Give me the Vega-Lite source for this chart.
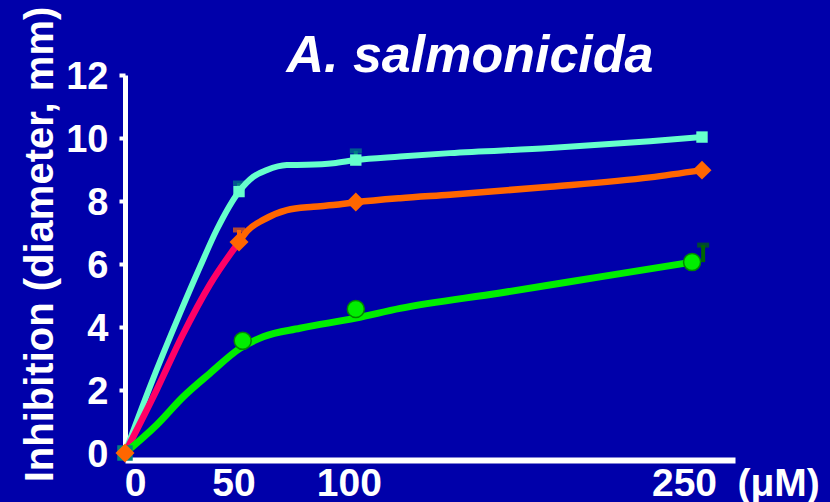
{
  "$schema": "https://vega.github.io/schema/vega-lite/v6.json",
  "width": 610,
  "height": 378,
  "autosize": {"type": "none"},
  "padding": {"left": 125, "top": 75, "right": 95, "bottom": 49},
  "background": "#0000AA",
  "title": {"text": "A. salmonicida", "font": "Liberation Sans", "fontSize": 52, "fontWeight": "bold", "fontStyle": "italic", "color": "white", "anchor": "middle", "frame": "group", "dx": 40, "dy": 120, "baseline": "alphabetic", "offset": 2},
  "datasets": {
    "curves": [
      {"series": "cyan", "x": 0, "y": 0},
      {"series": "cyan", "x": 10.8, "y": 2.1},
      {"series": "cyan", "x": 23.8, "y": 4.43},
      {"series": "cyan", "x": 32.5, "y": 5.91},
      {"series": "cyan", "x": 39.7, "y": 7.08},
      {"series": "cyan", "x": 49.4, "y": 8.3},
      {"series": "cyan", "x": 55.6, "y": 8.77},
      {"series": "cyan", "x": 61.4, "y": 8.98},
      {"series": "cyan", "x": 70.1, "y": 9.14},
      {"series": "cyan", "x": 78.7, "y": 9.15},
      {"series": "cyan", "x": 90.3, "y": 9.2},
      {"series": "cyan", "x": 100, "y": 9.3},
      {"series": "cyan", "x": 119.2, "y": 9.41},
      {"series": "cyan", "x": 140.8, "y": 9.52},
      {"series": "cyan", "x": 184.1, "y": 9.68},
      {"series": "cyan", "x": 227.5, "y": 9.9},
      {"series": "cyan", "x": 250, "y": 10.03},
      {"series": "red", "x": 0, "y": 0},
      {"series": "red", "x": 13.7, "y": 2.0},
      {"series": "red", "x": 25, "y": 3.75},
      {"series": "red", "x": 36.8, "y": 5.35},
      {"series": "red", "x": 49.4, "y": 6.7},
      {"series": "orange", "x": 49.4, "y": 6.7},
      {"series": "orange", "x": 53, "y": 7.05},
      {"series": "orange", "x": 59.9, "y": 7.4},
      {"series": "orange", "x": 70.1, "y": 7.71},
      {"series": "orange", "x": 81.6, "y": 7.82},
      {"series": "orange", "x": 90.3, "y": 7.87},
      {"series": "orange", "x": 100, "y": 7.96},
      {"series": "orange", "x": 119.2, "y": 8.09},
      {"series": "orange", "x": 140.8, "y": 8.2},
      {"series": "orange", "x": 184.1, "y": 8.45},
      {"series": "orange", "x": 227.5, "y": 8.75},
      {"series": "orange", "x": 250, "y": 8.98},
      {"series": "green", "x": 0, "y": 0},
      {"series": "green", "x": 13.7, "y": 0.89},
      {"series": "green", "x": 25.3, "y": 1.79},
      {"series": "green", "x": 36.8, "y": 2.53},
      {"series": "green", "x": 49.8, "y": 3.32},
      {"series": "green", "x": 59.9, "y": 3.69},
      {"series": "green", "x": 75.8, "y": 3.96},
      {"series": "green", "x": 100, "y": 4.28},
      {"series": "green", "x": 119.2, "y": 4.59},
      {"series": "green", "x": 162.5, "y": 5.08},
      {"series": "green", "x": 205.8, "y": 5.59},
      {"series": "green", "x": 245.7, "y": 6.06}
    ],
    "points": [
      {"series": "cyan", "x": 0, "y": 0},
      {"series": "cyan", "x": 49.4, "y": 8.3},
      {"series": "cyan", "x": 100, "y": 9.3},
      {"series": "cyan", "x": 250, "y": 10.03},
      {"series": "orange", "x": 0, "y": 0},
      {"series": "orange", "x": 49.4, "y": 6.7},
      {"series": "orange", "x": 100, "y": 7.97},
      {"series": "orange", "x": 250, "y": 8.98},
      {"series": "green", "x": 51, "y": 3.56},
      {"series": "green", "x": 100, "y": 4.57},
      {"series": "green", "x": 245.7, "y": 6.06}
    ],
    "errors": [
      {"series": "cyanErr", "x": 49.4, "y": 8.3, "top": 8.57},
      {"series": "cyanErr", "x": 100, "y": 9.3, "top": 9.59},
      {"series": "orangeErr", "x": 49.4, "y": 6.7, "top": 7.08},
      {"series": "greenErr", "x": 250.5, "y": 6.06, "top": 6.6}
    ]
  },
  "layer": [
    {
      "data": {"name": "errors"},
      "mark": {"type": "rule", "strokeWidth": 4},
      "encoding": {
        "x": {"field": "x", "type": "quantitative", "scale": {"domain": [0, 264.3], "nice": false, "zero": false},
          "axis": {"values": [0, 50, 100, 250], "offset": 7, "domainColor": "white", "domainWidth": 6, "ticks": false, "grid": false, "labelFlush": false,
            "labelFont": "Liberation Sans", "labelFontSize": 39, "labelFontWeight": "bold", "labelColor": "white", "labelPadding": 4,
            "labelOffset": {"condition": [{"test": "datum.value == 0", "value": 10}, {"test": "datum.value == 250", "value": -18}], "value": -7},
            "title": "(μM)", "titleFont": "Liberation Sans", "titleFontSize": 39, "titleFontWeight": "bold", "titleColor": "white",
            "titleX": 612, "titleY": 35, "titleAlign": "left", "titleBaseline": "alphabetic", "titleAnchor": null}},
        "y": {"field": "y", "type": "quantitative", "scale": {"domain": [0, 12], "nice": false},
          "axis": {"values": [0, 2, 4, 6, 8, 10, 12], "domainColor": "white", "domainWidth": 5, "tickColor": "white", "tickWidth": 4, "tickSize": 6, "grid": false,
            "labelFont": "Liberation Sans", "labelFontSize": 38, "labelFontWeight": "bold", "labelColor": "white", "labelPadding": 11, "labelOffset": 2,
            "title": "Inhibition (diameter, mm)", "titleFont": "Liberation Sans", "titleFontSize": 40, "titleFontWeight": "bold", "titleColor": "white",
            "titleX": -73, "titleY": 169, "titleBaseline": "alphabetic", "titleAngle": -90, "titleAlign": "center"}},
        "y2": {"field": "top"},
        "color": {"field": "series", "type": "nominal", "legend": null,
          "scale": {"domain": ["cyan", "red", "orange", "green", "cyanErr", "orangeErr", "greenErr"], "range": ["#66FFCC", "#FF0066", "#FF6600", "#00EE00", "#008080", "#FF6600", "#006600"]}}
      }
    },
    {
      "data": {"name": "errors"},
      "mark": {"type": "tick", "orient": "horizontal", "size": 12, "thickness": 5},
      "encoding": {
        "x": {"field": "x", "type": "quantitative"},
        "y": {"field": "top", "type": "quantitative"},
        "color": {"field": "series", "type": "nominal", "legend": null}
      }
    },
    {
      "data": {"name": "curves"},
      "transform": [{"filter": "datum.series == 'cyan'"}],
      "mark": {"type": "line", "interpolate": "monotone", "strokeWidth": 6, "strokeCap": "round", "strokeJoin": "round"},
      "encoding": {
        "x": {"field": "x", "type": "quantitative"},
        "y": {"field": "y", "type": "quantitative"},
        "color": {"field": "series", "type": "nominal", "legend": null}
      }
    },
    {
      "data": {"name": "curves"},
      "transform": [{"filter": "datum.series == 'red' || datum.series == 'orange'"}],
      "mark": {"type": "line", "interpolate": "monotone", "strokeWidth": 6.5, "strokeCap": "round", "strokeJoin": "round"},
      "encoding": {
        "x": {"field": "x", "type": "quantitative"},
        "y": {"field": "y", "type": "quantitative"},
        "color": {"field": "series", "type": "nominal", "legend": null}
      }
    },
    {
      "data": {"name": "curves"},
      "transform": [{"filter": "datum.series == 'green'"}],
      "mark": {"type": "line", "interpolate": "monotone", "strokeWidth": 7, "strokeCap": "round", "strokeJoin": "round"},
      "encoding": {
        "x": {"field": "x", "type": "quantitative"},
        "y": {"field": "y", "type": "quantitative"},
        "color": {"field": "series", "type": "nominal", "legend": null}
      }
    },
    {
      "data": {"name": "points"},
      "transform": [{"filter": "datum.series == 'green'"}],
      "mark": {"type": "point", "shape": "circle", "filled": true, "size": 290, "fill": "#00EE00", "stroke": "#008800", "strokeWidth": 1.5, "opacity": 1},
      "encoding": {
        "x": {"field": "x", "type": "quantitative"},
        "y": {"field": "y", "type": "quantitative"}
      }
    },
    {
      "data": {"name": "points"},
      "transform": [{"filter": "datum.series == 'cyan'"}],
      "mark": {"type": "point", "shape": "square", "filled": true, "size": 130, "opacity": 1},
      "encoding": {
        "x": {"field": "x", "type": "quantitative"},
        "y": {"field": "y", "type": "quantitative"},
        "color": {"condition": {"test": "datum.x == 0", "value": "#008080"}, "value": "#66FFCC"},
        "size": {"condition": {"test": "datum.x == 0", "value": 240}, "value": 130}
      }
    },
    {
      "data": {"name": "points"},
      "transform": [{"filter": "datum.series == 'orange'"}],
      "mark": {"type": "point", "shape": "diamond", "filled": true, "size": 360, "color": "#FF6600", "opacity": 1},
      "encoding": {
        "x": {"field": "x", "type": "quantitative"},
        "y": {"field": "y", "type": "quantitative"}
      }
    }
  ],
  "config": {"view": {"stroke": null}}
}
